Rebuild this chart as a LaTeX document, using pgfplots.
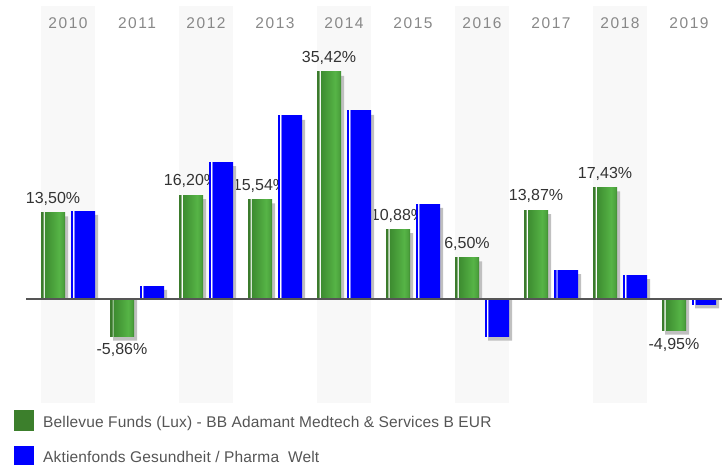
\documentclass[border=0pt]{standalone}
\usepackage{pgfplots}
\pgfplotsset{compat=1.18}
\usepackage{pgfplotstable}
\usepackage{fontspec}
\setmainfont{Liberation Sans}
\newfontfamily\yearfont[LetterSpace=10]{Liberation Sans}
\newfontfamily\legfont[LetterSpace=1]{Liberation Sans}
\definecolor{gshadow}{HTML}{C0C0C0}
\definecolor{band}{HTML}{F8F8F8}
\definecolor{gdark}{HTML}{3B7B2C}
\definecolor{gA}{HTML}{3C8A2F}
\definecolor{gB}{HTML}{56B446}
\definecolor{gBC}{HTML}{4CA23D}
\definecolor{gC}{HTML}{3E8831}
\definecolor{legG}{HTML}{3C7F2C}
\definecolor{pblue}{HTML}{0000FF}
\definecolor{yearc}{HTML}{888888}
\definecolor{labc}{HTML}{333333}
\definecolor{legc}{HTML}{555555}
\definecolor{basel}{HTML}{555555}
\pgfdeclarehorizontalshading{greenbar}{100bp}{color(0bp)=(gdark); color(29bp)=(gdark); color(29.5bp)=(white); color(31.3bp)=(white); color(31.8bp)=(gA); color(63bp)=(gB); color(71bp)=(gBC); color(75bp)=(gC); color(100bp)=(gC)}
\pgfdeclarehorizontalshading{bluebar}{100bp}{color(0bp)=(pblue); color(28.5bp)=(pblue); color(29bp)=(white); color(31bp)=(white); color(31.5bp)=(pblue); color(100bp)=(pblue)}

\pgfplotstableread{
x g gs b bs lab
0 13.50 12.88 13.73 13.11 13,50
1 -5.86 -6.48 2.03 1.41 -5,86
2 16.20 15.58 21.37 20.75 16,20
3 15.54 14.92 28.55 27.93 15,54
4 35.42 34.80 29.33 28.71 35,42
5 10.88 10.26 14.82 14.20 10,88
6 6.50 5.88 -5.88 -6.50 6,50
7 13.87 13.25 4.52 3.90 13,87
8 17.43 16.81 3.74 3.12 17,43
9 -4.95 -5.57 -0.83 -1.45 -4,95
}\data

\pgfplotsset{
  greenstyle/.style={ybar, bar shift=-15bp, shading=greenbar, draw=none, forget plot,
    point meta=explicit symbolic,
    nodes near coords={\pgfplotspointmeta\%},
    every node near coord/.append style={font=\fontsize{16bp}{19bp}\selectfont,
      text=labc, inner xsep=0pt, inner ysep=7bp, anchor=#1, xshift=-15bp}},
}

\begin{document}
\begin{tikzpicture}
\useasboundingbox (0,0) rectangle (722bp,465bp);
\begin{axis}[
  axis on top,
  clip marker paths=true,
  at={(26bp,62bp)}, anchor=south west,
  scale only axis, width=696bp, height=397bp,
  xmin=-0.6087, xmax=9.4783, ymin=-16.22, ymax=45.71,
  axis line style={draw=none}, major tick length=0pt,
  ytick=\empty,
  xtick={0,...,9},
  xticklabels={2010,2011,2012,2013,2014,2015,2016,2017,2018,2019},
  xticklabel pos=upper,
  xticklabel style={anchor=center, yshift=-17.5bp, inner sep=0pt,
    font=\yearfont\fontsize{15.5bp}{18bp}\selectfont, text=yearc},
  clip=false,
  bar width=24bp,
]
\fill[band] (axis cs:-0.3913,-16.22) rectangle (axis cs:0.3913,45.71);
\fill[band] (axis cs:1.6087,-16.22) rectangle (axis cs:2.3913,45.71);
\fill[band] (axis cs:3.6087,-16.22) rectangle (axis cs:4.3913,45.71);
\fill[band] (axis cs:5.6087,-16.22) rectangle (axis cs:6.3913,45.71);
\fill[band] (axis cs:7.6087,-16.22) rectangle (axis cs:8.3913,45.71);

\addplot[ybar, bar shift=-12bp, fill=gshadow, draw=none, forget plot] table[x=x,y=gs]{\data};

\pgfplotsinvokeforeach{0,2,3,4,5,6,7,8}{
\addplot[greenstyle=south, x filter/.expression={abs(x-#1)<0.3 ? x : nan}] table[x=x,y=g,meta=lab]{\data};
}
\pgfplotsinvokeforeach{1,9}{
\addplot[greenstyle=north, x filter/.expression={abs(x-#1)<0.3 ? x : nan}] table[x=x,y=g,meta=lab]{\data};
}
\addplot[ybar, bar shift=18bp, fill=gshadow, draw=none, forget plot] table[x=x,y=bs]{\data};
\pgfplotsinvokeforeach{0,...,9}{
\addplot[ybar, bar shift=15bp, shading=bluebar, draw=none, forget plot,
  x filter/.expression={abs(x-#1)<0.3 ? x : nan}] table[x=x,y=b]{\data};
}

\draw[basel, line width=2bp] (axis cs:-0.6087,0) -- (axis cs:9.4783,0);
\end{axis}

\fill[legG] (14bp,34bp) rectangle (34bp,55bp);
\fill[pblue] (14bp,0bp) rectangle (34bp,19bp);
\node[anchor=base west, inner sep=0pt, text=legc, font=\legfont\fontsize{15.5bp}{18bp}\selectfont] at (43bp,38bp) {Bellevue Funds (Lux) - BB Adamant Medtech \& Services B EUR};
\node[anchor=base west, inner sep=0pt, text=legc, font=\legfont\fontsize{15.5bp}{18bp}\selectfont] at (43bp,3bp) {Aktienfonds Gesundheit / Pharma\ \ Welt};
\end{tikzpicture}
\end{document}
